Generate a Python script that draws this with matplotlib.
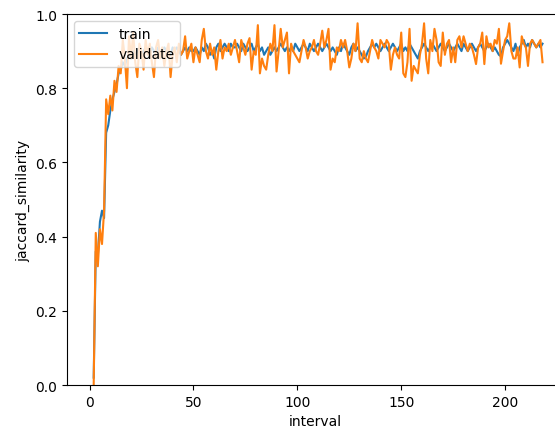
import numpy as np
import matplotlib
matplotlib.use("Agg")
import matplotlib.pyplot as plt

# jaccard similarity per interval, starting at interval 2
train = [
    0.02, 0.36, 0.35, 0.44, 0.47, 0.45, 0.68, 0.70, 0.74, 0.77,
    0.79, 0.81, 0.84, 0.85, 0.87, 0.86, 0.88, 0.89, 0.88, 0.90,
    0.89, 0.90, 0.91, 0.89, 0.90, 0.91, 0.90, 0.89, 0.91, 0.90,
    0.90, 0.91, 0.89, 0.90, 0.91, 0.90, 0.90, 0.89, 0.91, 0.90,
    0.91, 0.90, 0.89, 0.90, 0.91, 0.90, 0.91, 0.90, 0.90, 0.91,
    0.90, 0.89, 0.91, 0.90, 0.92, 0.91, 0.89, 0.90, 0.88, 0.91,
    0.92, 0.90, 0.91, 0.92, 0.91, 0.90, 0.92, 0.91, 0.91, 0.92,
    0.91, 0.90, 0.92, 0.91, 0.90, 0.91, 0.92, 0.90, 0.91, 0.92,
    0.90, 0.91, 0.89, 0.90, 0.91, 0.89, 0.90, 0.91, 0.90, 0.91,
    0.92, 0.91, 0.90, 0.91, 0.90, 0.91, 0.90, 0.92, 0.91, 0.90,
    0.91, 0.92, 0.91, 0.90, 0.92, 0.91, 0.90, 0.91, 0.92, 0.91,
    0.90, 0.91, 0.92, 0.91, 0.90, 0.91, 0.90, 0.89, 0.91, 0.90,
    0.92, 0.91, 0.90, 0.89, 0.91, 0.92, 0.90, 0.91, 0.90, 0.89,
    0.88, 0.885, 0.90, 0.91, 0.92, 0.91, 0.92, 0.91, 0.90, 0.91,
    0.92, 0.91, 0.90, 0.91, 0.92, 0.91, 0.90, 0.91, 0.92, 0.90,
    0.91, 0.90, 0.92, 0.91, 0.90, 0.89, 0.88, 0.90, 0.91, 0.92,
    0.91, 0.90, 0.91, 0.92, 0.91, 0.90, 0.91, 0.92, 0.91, 0.90,
    0.91, 0.92, 0.91, 0.90, 0.91, 0.92, 0.91, 0.90, 0.92, 0.91,
    0.90, 0.91, 0.92, 0.91, 0.90, 0.91, 0.92, 0.91, 0.90, 0.91,
    0.92, 0.91, 0.90, 0.91, 0.90, 0.89, 0.886, 0.91, 0.92, 0.93,
    0.92, 0.91, 0.90, 0.92, 0.89, 0.91, 0.92, 0.93, 0.91, 0.92,
    0.91, 0.93, 0.92, 0.91, 0.92, 0.91, 0.92,
]

validate = [
    0.00, 0.41, 0.32, 0.42, 0.38, 0.47, 0.77, 0.73, 0.78, 0.74,
    0.82, 0.79, 0.86, 0.84, 0.93, 0.88, 0.80, 0.94, 0.88, 0.95,
    0.87, 0.83, 0.92, 0.90, 0.85, 0.93, 0.89, 0.92, 0.87, 0.83,
    0.91, 0.93, 0.88, 0.91, 0.86, 0.90, 0.92, 0.83, 0.89, 0.91,
    0.87, 0.92, 0.89, 0.90, 0.94, 0.88, 0.90, 0.92, 0.87, 0.91,
    0.89, 0.87, 0.93, 0.96, 0.90, 0.88, 0.92, 0.89, 0.91, 0.85,
    0.90, 0.93, 0.88, 0.91, 0.90, 0.92, 0.89, 0.91, 0.93, 0.90,
    0.87, 0.93, 0.91, 0.89, 0.92, 0.935, 0.85, 0.90, 0.89, 0.97,
    0.84, 0.88, 0.86, 0.85, 0.89, 0.92, 0.90, 0.97, 0.845, 0.90,
    0.96, 0.91, 0.93, 0.95, 0.84, 0.92, 0.90, 0.89, 0.88, 0.87,
    0.90, 0.93, 0.91, 0.88, 0.90, 0.91, 0.93, 0.90, 0.89, 0.92,
    0.955, 0.91, 0.93, 0.96, 0.85, 0.88, 0.87, 0.91, 0.90, 0.93,
    0.91, 0.93, 0.90, 0.856, 0.88, 0.92, 0.90, 0.975, 0.88, 0.87,
    0.90, 0.88, 0.87, 0.90, 0.93, 0.91, 0.90, 0.88, 0.93, 0.92,
    0.91, 0.93, 0.92, 0.85, 0.89, 0.91, 0.89, 0.88, 0.95, 0.84,
    0.83, 0.87, 0.96, 0.82, 0.86, 0.85, 0.84, 0.89, 0.92, 0.975,
    0.88, 0.84, 0.93, 0.90, 0.96, 0.93, 0.87, 0.86, 0.95, 0.89,
    0.92, 0.93, 0.87, 0.91, 0.87, 0.93, 0.94, 0.91, 0.94, 0.92,
    0.90, 0.92, 0.91, 0.89, 0.865, 0.91, 0.92, 0.95, 0.865, 0.94,
    0.91, 0.92, 0.90, 0.93, 0.92, 0.96, 0.866, 0.90, 0.93, 0.94,
    0.975, 0.90, 0.88, 0.88, 0.91, 0.856, 0.94, 0.92, 0.91, 0.86,
    0.92, 0.93, 0.92, 0.91, 0.92, 0.93, 0.87,
]

interval = np.arange(2, 2 + len(train))

fig = plt.figure(figsize=(5.55, 4.35), dpi=100)
ax = fig.add_axes([0.1207, 0.1126, 0.8937, 0.8529])
ax.plot(interval, train, label="train")
ax.plot(interval, validate, label="validate")
ax.set_xlim(-10.85, 227.85)
ax.set_ylim(0, 1.0)
ax.set_xlabel("interval")
ax.set_ylabel("jaccard_similarity")
ax.legend(loc="upper left")
fig.savefig("out.png", dpi=100)
